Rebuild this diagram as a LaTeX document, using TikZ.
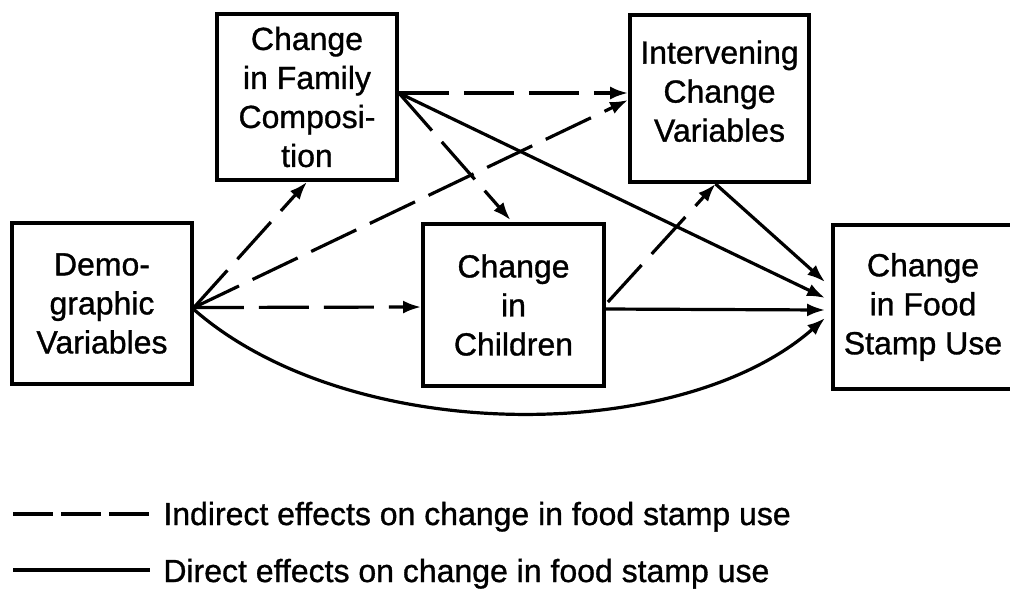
\documentclass[tikz,border=0pt]{standalone}
\usepackage{fontspec}
\setmainfont[FakeBold=1]{Liberation Sans}
\usetikzlibrary{arrows.meta,calc}
\begin{document}
\begin{tikzpicture}[x=0.5pt,y=-0.5pt,
  box/.style={draw,line width=1.9pt,align=center,inner sep=0pt,font=\fontsize{16}{19.5}\selectfont},
  conn/.style={line width=1.6pt,-{Latex[length=9pt,width=6.5pt]}},
  dsh/.style={conn,dash pattern=on 25pt off 7.5pt},
  legtext/.style={anchor=base west,inner sep=0pt,font=\fontsize{16}{19.5}\selectfont},
  legline/.style={line width=1.6pt}]
\clip (0,0) rectangle (1010,596);
\node[box,minimum width=90pt,minimum height=80.5pt] (demo) at (102,303.5) {Demo-\\graphic\\Variables};
\node[box,minimum width=90pt,minimum height=83pt] (family) at (307,97) {Change\\in Family\\Composi-\\tion};
\node[box,minimum width=89.5pt,minimum height=83.5pt] (interv) at (719.5,98.5) {Intervening\\Change\\Variables\\[-12pt]};
\node[box,minimum width=90.5pt,minimum height=81pt] (child) at (513.5,305) {Change\\in\\Children};
\node[box,minimum width=90pt,minimum height=82pt] (food) at (923,307) {Change\\in Food\\Stamp Use};
% indirect (dashed)
\draw[dsh] ($(demo.east)+(0,4)$) -- (family.south);
\draw[dsh] ($(demo.east)+(0,4)$) -- ($(interv.west)+(0,1.5)$);
\draw[dsh] ($(demo.east)+(0,4)$) -- ($(child.west)+(0,2)$);
\draw[dsh] ($(family.east)+(0,-4)$) -- ($(interv.west)+(0,-5.5)$);
\draw[dsh] ($(family.east)+(0,-4)$) -- ($(child.north)+(-3,-2)$);
\draw[dsh] ($(child.east)+(2,-3)$) -- ($(interv.south)+(-4,0)$);
% direct (solid)
\draw[conn] ($(family.east)+(0,-4)$) -- ($(food.west)+(-6,-9)$);
\draw[conn] ($(interv.south)+(-4,0)$) -- ($(food.west)+(-6,-25)$);
\draw[conn] ($(child.east)+(0,4)$) -- ($(food.west)+(-6,3)$);
\draw[conn] ($(demo.east)+(0,6)$) .. controls (350,446) and (680,446) .. ($(food.west)+(-6,11)$);
% legend
\coordinate (l1a) at (13,514); \coordinate (l1b) at (150,514);
\coordinate (l2a) at (13,570); \coordinate (l2b) at (150,570);
\draw[legline,dash pattern=on 20pt off 4pt] (l1a) -- (l1b);
\draw[legline] (l2a) -- (l2b);
\node[legtext] (t1) at (163,525) {Indirect effects on change in food stamp use};
\node[legtext] (t2) at (163,582) {Direct effects on change in food stamp use};
\end{tikzpicture}
\end{document}
